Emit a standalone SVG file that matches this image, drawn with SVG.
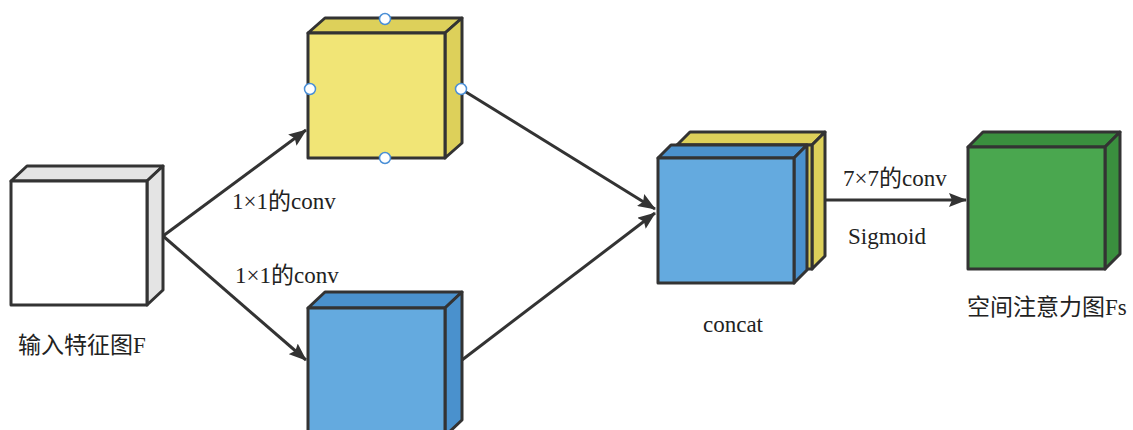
<svg xmlns="http://www.w3.org/2000/svg" width="1133" height="430" viewBox="0 0 1133 430">
  <defs>
    <style>
      .edge { stroke: #333; stroke-width: 3; stroke-linejoin: round; }
      .wire { stroke: #333; stroke-width: 3; fill: none; }
      .lbl { font-family: "Liberation Serif", "Noto Sans CJK SC", serif; font-size: 23px; fill: #222; }
      .handle { fill: #fff; stroke: #4a8fd6; stroke-width: 1.5; }
    </style>
    <marker id="arrow" viewBox="0 0 18 14" refX="17" refY="7" markerWidth="18" markerHeight="14" markerUnits="userSpaceOnUse" orient="auto">
      <path d="M0,0 L18,7 L0,14 L3,7 Z" fill="#333"/>
    </marker>
  </defs>

  <!-- connectors -->
  <g id="connectors">
    <path class="wire" d="M163,236 L306,130" marker-end="url(#arrow)"/>
    <path class="wire" d="M163,236 L306,360" marker-end="url(#arrow)"/>
    <path class="wire" d="M461,89 L655,209" marker-end="url(#arrow)"/>
    <path class="wire" d="M462,360 L655,213" marker-end="url(#arrow)"/>
    <path class="wire" d="M826,200 L966,200" marker-end="url(#arrow)"/>
  </g>

  <!-- input feature map -->
  <g id="input">
    <polygon class="edge" points="11,181 27,166 163,166 147,181" fill="#e4e4e4"/>
    <polygon class="edge" points="147,181 163,166 163,290 147,305" fill="#e4e4e4"/>
    <rect class="edge" x="11" y="181" width="136" height="124" fill="#ffffff"/>
    <text class="lbl" x="18" y="353">输入特征图F</text>
  </g>

  <!-- upper 1x1 conv branch -->
  <g id="conv-yellow">
    <polygon class="edge" points="308,33 325,18 462,18 445,33" fill="#ddd05a"/>
    <polygon class="edge" points="445,33 462,18 462,143 445,158" fill="#ddd05a"/>
    <rect class="edge" x="308" y="33" width="137" height="125" fill="#f1e576"/>
    <circle class="handle" cx="385" cy="19" r="5.5"/>
    <circle class="handle" cx="310" cy="89" r="5.5"/>
    <circle class="handle" cx="461" cy="89" r="5.5"/>
    <circle class="handle" cx="385" cy="158" r="5.5"/>
    <text class="lbl" x="232" y="209">1×1的conv</text>
  </g>

  <!-- lower 1x1 conv branch -->
  <g id="conv-blue">
    <polygon class="edge" points="308,308 325,292 462,292 445,308" fill="#4a91cd"/>
    <polygon class="edge" points="445,308 462,292 462,420 445,436" fill="#4a91cd"/>
    <rect class="edge" x="308" y="308" width="137" height="130" fill="#64aadf"/>
    <text class="lbl" x="235" y="283">1×1的conv</text>
  </g>

  <!-- concatenated maps -->
  <g id="concat">
    <polygon class="edge" points="677,145 690,132 825,132 812,145" fill="#ddd05a"/>
    <polygon class="edge" points="812,145 825,132 825,256 812,269" fill="#ddd05a"/>
    <rect class="edge" x="677" y="145" width="135" height="124" fill="#ddd05a"/>
    <polygon class="edge" points="658,158 671,145 807,145 794,158" fill="#4a91cd"/>
    <polygon class="edge" points="794,158 807,145 807,270 794,283" fill="#4a91cd"/>
    <rect class="edge" x="658" y="158" width="136" height="125" fill="#64aadf"/>
    <text class="lbl" x="733" y="332" text-anchor="middle">concat</text>
  </g>

  <!-- spatial attention map -->
  <g id="attention">
    <polygon class="edge" points="968,147 983,132 1120,132 1105,147" fill="#3a8f3e"/>
    <polygon class="edge" points="1105,147 1120,132 1120,254 1105,269" fill="#3a8f3e"/>
    <rect class="edge" x="968" y="147" width="137" height="122" fill="#4aa74f"/>
    <text class="lbl" x="843" y="186">7×7的conv</text>
    <text class="lbl" x="848" y="244">Sigmoid</text>
    <text class="lbl" x="967" y="315">空间注意力图Fs</text>
  </g>
</svg>
